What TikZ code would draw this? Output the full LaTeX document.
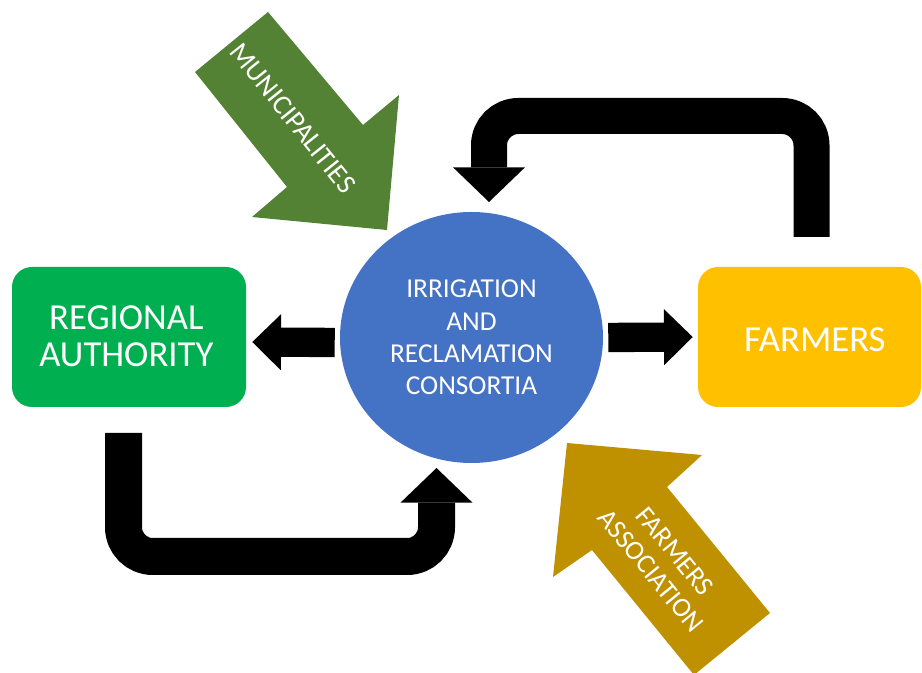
\documentclass[tikz,border=0pt]{standalone}
\usepackage{fontspec}
\setmainfont{Carlito}
\usetikzlibrary{arrows.meta,shapes.geometric}
\definecolor{raGreen}{HTML}{00B050}
\definecolor{farmGold}{HTML}{FFC000}
\definecolor{ircBlue}{HTML}{4472C4}
\definecolor{muniGreen}{HTML}{548235}
\definecolor{faGold}{HTML}{BF9000}
\begin{document}
\begin{tikzpicture}[x=0.75pt,y=-0.75pt,
  boxnode/.style={rounded corners=15pt, inner sep=0pt, align=center, text=white,
    minimum height=105pt, font=\fontsize{27.5}{28}\selectfont},
  smallarrow/.style={line width=22pt, draw=black,
    -{Triangle[line width=0pt, length=21.5pt, width=42pt]}},
  bigarrow/.style={line width=27pt, draw=black, rounded corners=22pt,
    -{Triangle[line width=0pt, length=26pt, width=54pt]}},
  arrowtext/.style={text=white, align=center, inner sep=0pt,
    font=\fontsize{20.5}{23}\selectfont}]
\useasboundingbox (0,0) rectangle (922,673);
\clip (0,0) rectangle (922,673);

% main nodes
\node[boxnode, fill=raGreen, minimum width=175.5pt] (ra) at (129,337)
  {\raisebox{-2.5pt}[\height][\depth]{\begin{tabular}{@{}c@{}}REGIONAL\\[-0.5pt]AUTHORITY\end{tabular}}\hspace*{4pt}};
\node[boxnode, fill=farmGold, minimum width=167.25pt] (farm) at (809.5,337)
  {\hspace*{8pt}\raisebox{-2.25pt}[\height][\depth]{FARMERS}};
\node[ellipse, fill=ircBlue, minimum width=197.25pt, minimum height=188.25pt,
  inner sep=0pt, align=center, text=white, font=\fontsize{20.5}{24.2}\selectfont]
  (irc) at (471.5,337.5) {IRRIGATION\\AND\\RECLAMATION\\CONSORTIA};

% small straight arrows
\draw[smallarrow, shorten <=3.75pt, shorten >=4.5pt]
  ([yshift=-3.75pt]irc.west) -- ([yshift=-3.75pt]ra.east);
\draw[smallarrow, shorten <=3.75pt, shorten >=3.75pt]
  (irc.east) -- (farm.west);

% big bent arrows
\coordinate (topStart) at (811.5,237);
\coordinate (topBend) at (650,116);
\coordinate (topEnd) at (489,202);
\draw[bigarrow] (topStart) |- (topBend) -| (topEnd);

\coordinate (botStart) at (123.5,433);
\coordinate (botBend) at (280,556.5);
\coordinate (botEnd) at (436.5,468);
\draw[bigarrow, line width=27.75pt] (botStart) |- (botBend) -| (botEnd);

% municipalities block arrow
\fill[muniGreen] (268,12) -- (195,72) -- (287,187) -- (252,217) -- (387,230)
  -- (399,95) -- (363,125) -- cycle;
\node[arrowtext, rotate=-51.3, font=\fontsize{21}{24}\selectfont] (muni) at (293,118) {MUNICIPALITIES};

% farmers association block arrow
\fill[faGold] (567,443) -- (702,455) -- (667,487) -- (770,613) -- (694,675)
  -- (592,550) -- (553,577) -- cycle;
\node[arrowtext, rotate=-50.7] (fa) at (663,561) {FARMERS\\ASSOCIATION};
\end{tikzpicture}
\end{document}
